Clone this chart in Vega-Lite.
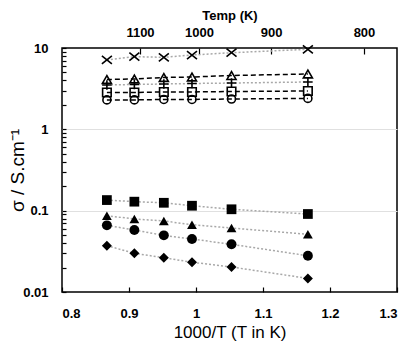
{
  "$schema": "https://vega.github.io/schema/vega-lite/v6.json",
  "width": 335,
  "height": 244,
  "autosize": "none",
  "padding": {"left": 62, "top": 48, "right": 12, "bottom": 52},
  "background": "white",
  "config": {
    "font": "Liberation Sans",
    "view": {"stroke": "#000", "strokeWidth": 1.5},
    "axis": {
      "domain": false,
      "labelColor": "#000",
      "labelFont": "Liberation Sans",
      "labelFontWeight": "bold",
      "labelFontSize": 13,
      "titleColor": "#000",
      "titleFont": "Liberation Sans",
      "tickColor": "#000",
      "tickWidth": 1.2
    }
  },
  "data": {
    "values": [
      {"x": 0.867, "y": 7.12, "s": "cross"},
      {"x": 0.908, "y": 7.82, "s": "cross"},
      {"x": 0.952, "y": 7.69, "s": "cross"},
      {"x": 0.994, "y": 8.2, "s": "cross"},
      {"x": 1.053, "y": 8.75, "s": "cross"},
      {"x": 1.167, "y": 9.64, "s": "cross"},
      {"x": 0.867, "y": 4.1, "s": "tri_o"},
      {"x": 0.908, "y": 4.16, "s": "tri_o"},
      {"x": 0.952, "y": 4.34, "s": "tri_o"},
      {"x": 0.994, "y": 4.4, "s": "tri_o"},
      {"x": 1.053, "y": 4.59, "s": "tri_o"},
      {"x": 1.167, "y": 4.79, "s": "tri_o"},
      {"x": 0.867, "y": 3.51, "s": "plus"},
      {"x": 0.908, "y": 3.56, "s": "plus"},
      {"x": 0.952, "y": 3.61, "s": "plus"},
      {"x": 0.994, "y": 3.66, "s": "plus"},
      {"x": 1.053, "y": 3.71, "s": "plus"},
      {"x": 1.167, "y": 3.82, "s": "plus"},
      {"x": 0.867, "y": 2.84, "s": "sq_o"},
      {"x": 0.908, "y": 2.84, "s": "sq_o"},
      {"x": 0.952, "y": 2.88, "s": "sq_o"},
      {"x": 0.994, "y": 2.88, "s": "sq_o"},
      {"x": 1.053, "y": 2.92, "s": "sq_o"},
      {"x": 1.167, "y": 2.96, "s": "sq_o"},
      {"x": 0.867, "y": 2.3, "s": "ci_o"},
      {"x": 0.908, "y": 2.3, "s": "ci_o"},
      {"x": 0.952, "y": 2.33, "s": "ci_o"},
      {"x": 0.994, "y": 2.33, "s": "ci_o"},
      {"x": 1.053, "y": 2.36, "s": "ci_o"},
      {"x": 1.167, "y": 2.4, "s": "ci_o"},
      {"x": 0.867, "y": 0.135, "s": "sq_f"},
      {"x": 0.908, "y": 0.129, "s": "sq_f"},
      {"x": 0.952, "y": 0.125, "s": "sq_f"},
      {"x": 0.994, "y": 0.115, "s": "sq_f"},
      {"x": 1.053, "y": 0.104, "s": "sq_f"},
      {"x": 1.167, "y": 0.091, "s": "sq_f"},
      {"x": 0.867, "y": 0.0867, "s": "tri_f"},
      {"x": 0.908, "y": 0.079, "s": "tri_f"},
      {"x": 0.952, "y": 0.0747, "s": "tri_f"},
      {"x": 0.994, "y": 0.0672, "s": "tri_f"},
      {"x": 1.053, "y": 0.0612, "s": "tri_f"},
      {"x": 1.167, "y": 0.0512, "s": "tri_f"},
      {"x": 0.867, "y": 0.066, "s": "ci_f"},
      {"x": 0.908, "y": 0.0578, "s": "ci_f"},
      {"x": 0.952, "y": 0.0497, "s": "ci_f"},
      {"x": 0.994, "y": 0.0448, "s": "ci_f"},
      {"x": 1.053, "y": 0.0386, "s": "ci_f"},
      {"x": 1.167, "y": 0.0279, "s": "ci_f"},
      {"x": 0.867, "y": 0.0371, "s": "di_f"},
      {"x": 0.908, "y": 0.0299, "s": "di_f"},
      {"x": 0.952, "y": 0.0264, "s": "di_f"},
      {"x": 0.994, "y": 0.0232, "s": "di_f"},
      {"x": 1.053, "y": 0.0203, "s": "di_f"},
      {"x": 1.167, "y": 0.0147, "s": "di_f"}
    ]
  },
  "resolve": {
    "axis": {"x": "independent"},
    "scale": {"shape": "independent", "size": "independent"}
  },
  "layer": [
    {
      "transform": [{"filter": {"field": "s", "oneOf": ["cross", "plus", "sq_f", "tri_f", "ci_f", "di_f"]}}],
      "mark": {"type": "line", "color": "#a8a8a8", "strokeWidth": 1.5, "strokeDash": [2, 2]},
      "encoding": {
        "x": {
          "field": "x", "type": "quantitative",
          "scale": {"domain": [0.8, 1.3], "nice": false, "zero": false},
          "axis": {
            "orient": "bottom",
            "values": [0.8, 0.9, 1.0, 1.1, 1.2, 1.3],
            "format": "~g",
            "tickSize": -5,
            "labelPadding": 20,
            "grid": false,
            "title": "1000/T (T in K)",
            "titleFontSize": 17,
            "titleFontWeight": "normal",
            "titlePadding": 4
          }
        },
        "y": {
          "field": "y", "type": "quantitative",
          "scale": {"type": "log", "domain": [0.01, 10], "nice": false},
          "axis": {
            "values": [0.01, 0.02, 0.03, 0.04, 0.05, 0.06, 0.07, 0.08, 0.09, 0.1, 0.2, 0.3, 0.4, 0.5, 0.6, 0.7, 0.8, 0.9, 1, 2, 3, 4, 5, 6, 7, 8, 9, 10],
            "labelExpr": "datum.value == 10 ? '10' : datum.value == 1 ? '1' : datum.value == 0.1 ? '0.1' : datum.value == 0.01 ? '0.01' : ''",
            "tickSize": -4,
            "labelPadding": 18,
            "grid": true,
            "gridColor": "#e0e0e0",
            "gridOpacity": {"condition": {"test": "datum.value == 1 || datum.value == 0.1", "value": 1}, "value": 0},
            "title": "σ / S.cm⁻¹",
            "titleFontSize": 19,
            "titleFontWeight": "normal",
            "titleX": -35
          }
        },
        "detail": {"field": "s"}
      }
    },
    {
      "transform": [{"filter": {"field": "s", "oneOf": ["tri_o", "sq_o", "ci_o"]}}],
      "mark": {"type": "line", "color": "#000", "strokeWidth": 1.5, "strokeDash": [5, 3]},
      "encoding": {
        "x": {"field": "x", "type": "quantitative", "scale": {"domain": [0.8, 1.3], "nice": false, "zero": false}, "axis": null},
        "y": {"field": "y", "type": "quantitative", "scale": {"type": "log", "domain": [0.01, 10], "nice": false}},
        "detail": {"field": "s"}
      }
    },
    {
      "transform": [{"filter": {"field": "s", "oneOf": ["cross", "plus", "tri_o", "sq_o", "ci_o"]}}],
      "mark": {"type": "point", "filled": false, "stroke": "#000", "strokeWidth": 1.6, "opacity": 1},
      "encoding": {
        "x": {
          "field": "x", "type": "quantitative",
          "scale": {"domain": [0.8, 1.3], "nice": false, "zero": false},
          "axis": {
            "orient": "top",
            "values": [0.9164, 1.0045, 1.112, 1.2507],
            "labelExpr": "format(round(1000 / datum.value / 100) * 100, 'd')",
            "tickSize": -6,
            "labelPadding": 15,
            "grid": false,
            "title": "Temp (K)",
            "titleFontSize": 13,
            "titleFontWeight": "bold",
            "titlePadding": 4
          }
        },
        "y": {"field": "y", "type": "quantitative", "scale": {"type": "log", "domain": [0.01, 10], "nice": false}},
        "shape": {
          "field": "s", "type": "nominal", "legend": null,
          "scale": {
            "domain": ["cross", "plus", "tri_o", "sq_o", "ci_o"],
            "range": ["M-1,-0.8L1,0.8M-1,0.8L1,-0.8", "M0,-1L0,1M-1,0L1,0", "triangle-up", "square", "circle"]
          }
        },
        "size": {
          "field": "s", "type": "nominal", "legend": null,
          "scale": {"domain": ["cross", "plus", "tri_o", "sq_o", "ci_o"], "range": [100, 64, 95, 90, 90]}
        }
      }
    },
    {
      "transform": [{"filter": {"field": "s", "oneOf": ["sq_f", "tri_f", "ci_f", "di_f"]}}],
      "mark": {"type": "point", "filled": true, "color": "#000", "opacity": 1},
      "encoding": {
        "x": {"field": "x", "type": "quantitative", "scale": {"domain": [0.8, 1.3], "nice": false, "zero": false}, "axis": null},
        "y": {"field": "y", "type": "quantitative", "scale": {"type": "log", "domain": [0.01, 10], "nice": false}},
        "shape": {
          "field": "s", "type": "nominal", "legend": null,
          "scale": {"domain": ["sq_f", "tri_f", "ci_f", "di_f"], "range": ["square", "triangle-up", "circle", "diamond"]}
        },
        "size": {
          "field": "s", "type": "nominal", "legend": null,
          "scale": {"domain": ["sq_f", "tri_f", "ci_f", "di_f"], "range": [95, 100, 95, 85]}
        }
      }
    }
  ]
}
